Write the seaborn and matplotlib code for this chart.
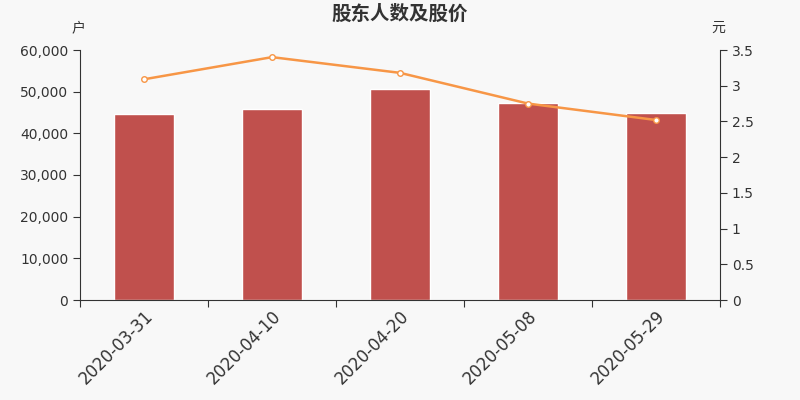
import numpy as np
import pandas as pd
import matplotlib
matplotlib.use('Agg')
import matplotlib.pyplot as plt
import matplotlib.ticker as mticker
import seaborn as sns

# data
dates = ['2020-03-31', '2020-04-10', '2020-04-20', '2020-05-08', '2020-05-29']
holders = [44700, 45800, 50550, 47250, 45000]
prices = [3.09, 3.40, 3.18, 2.75, 2.52]

sns.set_style('ticks')
plt.rcParams['font.family'] = ['DejaVu Sans', 'Noto Sans CJK SC']

bg = '#f8f8f8'
fig = plt.figure(figsize=(8, 4), dpi=100, facecolor=bg)
ax = fig.add_axes([0.1, 0.25, 0.8, 0.625], facecolor=bg)

df = pd.DataFrame({'date': dates, 'holders': holders, 'price': prices})
sns.barplot(data=df, x='date', y='holders', color='#c0504d', saturation=1,
            width=0.47, ax=ax)
ax.set_xlim(-0.5, len(dates) - 0.5)
ax.set_ylim(0, 60000)
ax.yaxis.set_major_locator(mticker.MultipleLocator(10000))
ax.yaxis.set_major_formatter(mticker.StrMethodFormatter('{x:,.0f}'))
ax.set_xlabel('')
ax.set_ylabel('')

# ticks at category boundaries, labels at centres
ax.set_xticks(np.arange(len(dates) + 1) - 0.5)
ax.set_xticklabels([])
ax.set_xticks(np.arange(len(dates)), minor=True)
ax.set_xticklabels(dates, minor=True, rotation=45, ha='right',
                   rotation_mode='anchor', fontsize=12, color='#333333')
ax.tick_params(axis='x', which='minor', length=0, pad=5)
ax.tick_params(axis='x', which='major', length=5, color='#333333')
ax.tick_params(axis='y', labelsize=10, labelcolor='#333333', length=5,
               color='#333333')

ax2 = ax.twinx()
sns.lineplot(x=np.arange(len(dates)), y=prices, ax=ax2, color='#f79646',
             linewidth=1.8, marker='o', markersize=4,
             markerfacecolor='white', markeredgecolor='#f79646',
             markeredgewidth=1)
ax2.set_ylim(0, 3.5)
ax2.yaxis.set_major_locator(mticker.MultipleLocator(0.5))
ax2.yaxis.set_major_formatter(mticker.FuncFormatter(lambda v, p: f'{v:g}'))
ax2.tick_params(axis='y', labelsize=10, labelcolor='#333333', length=5,
                color='#333333')

for a in (ax, ax2):
    a.spines['top'].set_visible(False)
    for s in ('left', 'right', 'bottom'):
        a.spines[s].set_color('#333333')
ax.spines['right'].set_visible(False)
ax2.spines['left'].set_visible(False)
ax2.spines['bottom'].set_visible(False)

fig.text(0.5, 0.965, '股东人数及股价', ha='center', va='center',
         fontsize=14, fontweight='bold', color='#333333')
fig.text(0.098, 0.93, '户', ha='center', va='center', fontsize=10,
         color='#333333')
fig.text(0.898, 0.93, '元', ha='center', va='center', fontsize=10,
         color='#333333')

fig.savefig('out.png', dpi=100, facecolor=bg)
